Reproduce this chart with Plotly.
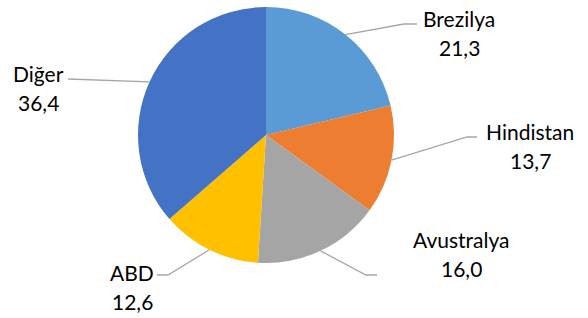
import math
import plotly.graph_objects as go

countries = ["Brezilya", "Hindistan", "Avustralya", "ABD", "Diğer"]
shares = [21.3, 13.7, 16.0, 12.6, 36.4]
colors = ["#5B9BD5", "#ED7D31", "#A5A5A5", "#FFC000", "#4472C4"]

W, H = 588, 318
CX, CY, R = 266, 135, 128

# label layout (pixel positions of label block centres and leader line bends/ends)
label_x = [459, 530, 461, 132, 38]
name_y = [17, 130, 238, 271, 72]
line_gap = 29
bend_pts = [(404, 24), (467, 137), (366, 275), (168, 275), (100, 79)]
end_pts = [(417, 24), (477, 137), (377, 275), (157, 275), (68, 79)]

FONT = "Lato, Open Sans, sans-serif"

fig = go.Figure()
fig.add_trace(go.Pie(
    labels=countries, values=shares, sort=False, direction="clockwise",
    rotation=0, textinfo="none", hoverinfo="label+value",
    marker=dict(colors=colors, line=dict(color="white", width=0)),
    domain=dict(x=[(CX - R) / W, (CX + R) / W], y=[1 - (CY + R) / H, 1 - (CY - R) / H]),
    showlegend=False,
))

total = sum(shares)
cum = 0
shapes = []
annotations = []
for i, (c, v) in enumerate(zip(countries, shares)):
    mid = (cum + v / 2) / total * 2 * math.pi
    cum += v
    sx = CX + R * math.sin(mid)
    sy = CY - R * math.cos(mid)
    bx, by = bend_pts[i]
    ex, ey = end_pts[i]
    if i == 4:
        by = sy
        bx = sx
    path = f"M {sx},{sy} L {bx},{by} L {ex},{ey}"
    shapes.append(dict(type="path", path=path, xref="x", yref="y",
                       line=dict(color="#A6A6A6", width=1.3)))
    val = f"{v:.1f}".replace(".", ",")
    annotations.append(dict(x=label_x[i], y=name_y[i] + 1, text=c, xref="x", yref="y",
                            showarrow=False, xanchor="center", yanchor="middle",
                            font=dict(family=FONT, size=21, color="#000000")))
    annotations.append(dict(x=label_x[i], y=name_y[i] + line_gap + 1, text=val, xref="x", yref="y",
                            showarrow=False, xanchor="center", yanchor="middle",
                            font=dict(family=FONT, size=21, color="#000000")))

fig.update_layout(
    width=W, height=H, margin=dict(l=0, r=0, t=0, b=0),
    paper_bgcolor="white", plot_bgcolor="rgba(0,0,0,0)",
    xaxis=dict(range=[0, W], visible=False, fixedrange=True),
    yaxis=dict(range=[H, 0], visible=False, fixedrange=True),
    shapes=shapes, annotations=annotations,
)
fig.write_html("out.html", config={"displayModeBar": False},
               post_script="document.body.style.margin='0';document.body.style.overflow='hidden';")
